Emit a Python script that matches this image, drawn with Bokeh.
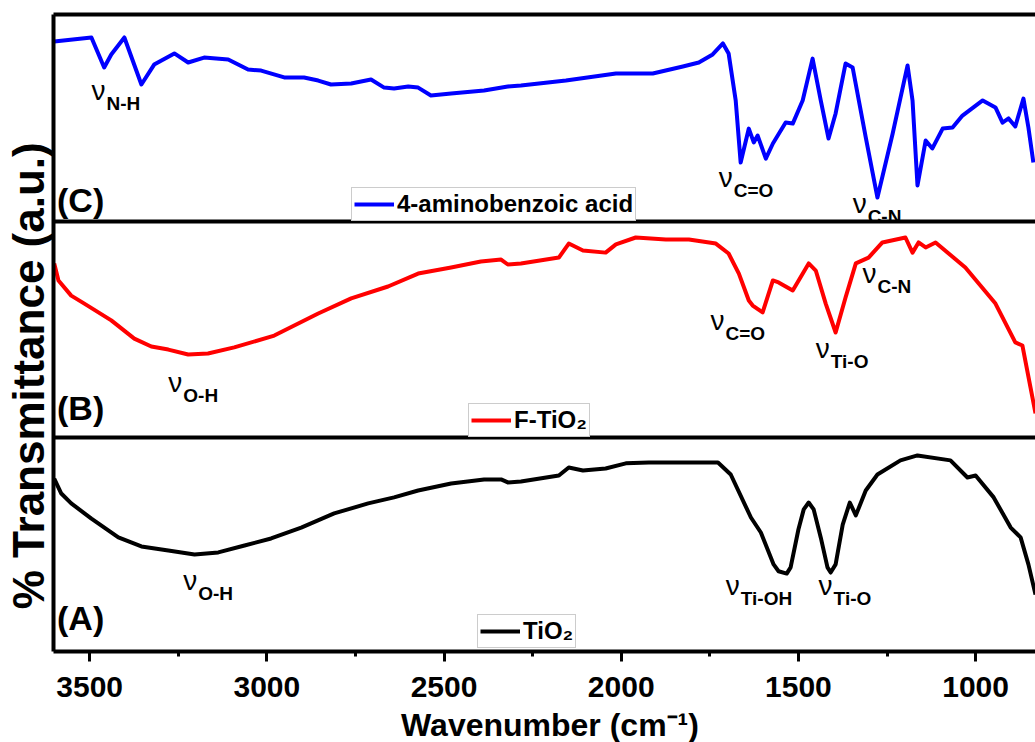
from bokeh.plotting import figure
from bokeh.layouts import column
from bokeh.models import (Range1d, LinearAxis, SingleIntervalTicker, FixedTicker,
                          Span, Legend, LegendItem)
from bokeh.core.properties import value
from bokeh.embed import file_html
from bokeh.resources import INLINE

# ---------------- data (wavenumber in cm-1, relative transmittance 0-100 per panel) -------------
wn_c = [3600, 3495, 3459, 3439, 3402, 3354, 3318, 3261, 3222, 3177, 3109, 3053, 3016, 2951, 2895,
        2855, 2819, 2762, 2706, 2669, 2641, 2601, 2573, 2537, 2480, 2387, 2320, 2283, 2156, 2015,
        1911, 1826, 1781, 1742, 1713, 1697, 1677, 1663, 1640, 1626, 1615, 1592, 1572, 1536, 1516,
        1488, 1460, 1437, 1415, 1395, 1367, 1347, 1310, 1277, 1234, 1192, 1178, 1164, 1141, 1122,
        1093, 1065, 1037, 980, 944, 924, 907, 888, 865, 851, 837]
t_c = [87.0, 88.9, 74.4, 80.7, 88.9, 66.2, 75.8, 81.2, 76.8, 79.2, 78.3, 73.4, 72.9, 69.6, 69.6,
       68.1, 66.2, 66.7, 68.6, 64.7, 64.3, 65.2, 64.7, 60.9, 61.8, 63.3, 65.2, 65.7, 68.1, 71.5,
       71.5, 74.9, 76.8, 80.7, 86.0, 81.2, 58.5, 28.5, 44.9, 38.2, 41.5, 30.4, 37.7, 47.8, 47.3,
       58.5, 78.7, 58.5, 40.1, 52.2, 76.3, 74.4, 40.6, 11.6, 42.5, 75.4, 58.5, 17.4, 39.1, 35.3,
       44.9, 45.4, 51.2, 58.5, 55.1, 47.8, 49.8, 45.9, 59.4, 45.4, 28.5]

wn_b = [3600, 3588, 3552, 3515, 3439, 3374, 3326, 3278, 3222, 3166, 3092, 2979, 2855, 2762, 2658,
        2573, 2480, 2396, 2339, 2320, 2283, 2176, 2148, 2108, 2044, 2015, 1959, 1874, 1809, 1733,
        1697, 1668, 1640, 1629, 1601, 1572, 1556, 1516, 1471, 1451, 1423, 1395, 1367, 1338, 1302,
        1263, 1198, 1178, 1161, 1141, 1113, 1029, 944, 888, 868, 845, 831]
t_b = [80.6, 72.7, 65.7, 62.0, 54.2, 45.8, 42.1, 40.7, 38.4, 38.9, 41.7, 47.2, 57.4, 64.4, 69.9,
       75.9, 78.7, 81.5, 82.4, 80.1, 80.6, 83.3, 89.8, 86.6, 85.6, 89.4, 92.6, 91.7, 91.7, 89.8,
       85.2, 75.9, 63.4, 61.1, 57.9, 72.7, 71.8, 68.1, 80.6, 77.3, 62.0, 48.6, 64.8, 80.6, 83.3,
       90.3, 92.6, 85.6, 90.3, 88.0, 90.3, 78.7, 62.0, 44.0, 42.6, 23.1, 11.1]

wn_a = [3600, 3580, 3552, 3495, 3419, 3354, 3278, 3204, 3137, 3063, 2988, 2903, 2810, 2714, 2641,
        2573, 2480, 2387, 2339, 2320, 2283, 2176, 2148, 2108, 2044, 1987, 1922, 1781, 1727, 1691,
        1634, 1606, 1570, 1556, 1533, 1522, 1500, 1485, 1471, 1457, 1437, 1418, 1409, 1395, 1375,
        1355, 1338, 1310, 1277, 1212, 1164, 1071, 1023, 1000, 949, 901, 873, 851, 831]
t_a = [80.8, 73.8, 69.2, 62.1, 53.3, 49.1, 47.2, 45.3, 46.3, 49.5, 52.8, 57.9, 64.5, 69.2, 72.0,
       75.2, 78.5, 80.4, 80.4, 79.0, 79.4, 82.2, 86.0, 84.6, 85.5, 87.9, 88.3, 88.3, 88.3, 82.7,
       62.6, 55.6, 40.7, 37.5, 36.4, 39.3, 57.0, 66.4, 69.6, 66.4, 53.3, 39.3, 36.9, 40.7, 59.3,
       69.6, 63.6, 75.2, 82.7, 89.3, 91.6, 89.3, 81.3, 82.2, 72.0, 57.9, 53.3, 40.7, 26.6]

series_names = ["4-aminobenzoic acid", "F-TiO\u2082", "TiO\u2082"]
x_ticks_step = 500
x_title = "Wavenumber (cm\u207b\u00b9)"
y_title = "% Transmittance (a.u.)"

# band annotations (wavenumber, height on the stacked axis, subscript)
ann_wn = [3495, 1725, 1347, 3278, 1748, 1451, 1319, 3236, 1705, 1443]
ann_y = [259.5, 218.5, 206.3, 122.0, 151.2, 138.0, 173.3, 28.7, 26.4, 26.4]
ann_sub = ["N-H", "C=O", "C-N", "O-H", "C=O", "Ti-O", "C-N", "O-H", "Ti-OH", "Ti-O"]

panel_labels = ["(C)", "(B)", "(A)"]
panel_label_y = [207.0, 109.0, 10.0]

# ---------------- layout of the stacked panels ----------------
FONT = "Liberation Sans"
panel_bottom = {"A": 0.0, "B": 100.8, "C": 202.5}
panel_height = {"A": 100.8, "B": 101.7, "C": 97.5}

def stack(vals, key):
    return [panel_bottom[key] + v * panel_height[key] / 100.0 for v in vals]

p = figure(width=1035, height=706, output_backend="svg", toolbar_location=None,
           x_range=Range1d(3602, 831), y_range=Range1d(0, 300),
           min_border_left=52, min_border_right=0, min_border_top=14, min_border_bottom=55,
           y_axis_label=y_title + "\u00a0" * 7)
p.outline_line_color = None
p.grid.visible = False
p.background_fill_color = "white"
p.border_fill_color = "white"

xa = p.xaxis[0]
xa.ticker = SingleIntervalTicker(interval=x_ticks_step, num_minor_ticks=2)
xa.axis_line_width = 4
xa.major_tick_line_width = 3
xa.major_tick_out = 10
xa.major_tick_in = 0
xa.minor_tick_line_width = 3
xa.minor_tick_out = 5
xa.minor_tick_in = 0
xa.major_label_text_font = FONT
xa.major_label_text_font_style = "bold"
xa.major_label_text_font_size = "30px"
xa.major_label_text_color = "black"
xa.major_label_standoff = 15

ya = p.yaxis[0]
ya.ticker = FixedTicker(ticks=[])
ya.axis_line_width = 4
ya.major_tick_line_color = None
ya.minor_tick_line_color = None
ya.major_label_text_font_size = "0px"
ya.axis_label_text_font = FONT
ya.axis_label_text_font_style = "bold"
ya.axis_label_text_font_size = "44px"
ya.axis_label_text_color = "black"
ya.axis_label_standoff = 1

top_axis = LinearAxis(ticker=FixedTicker(ticks=[]), axis_line_width=4,
                      major_tick_line_color=None, minor_tick_line_color=None,
                      major_label_text_font_size="0px")
p.add_layout(top_axis, "above")

for key in ("B", "C"):
    p.add_layout(Span(location=panel_bottom[key], dimension="width",
                      line_color="black", line_width=4))

rC = p.line(wn_c, stack(t_c, "C"), line_color="#0000ff", line_width=4, line_join="round")
rB = p.line(wn_b, stack(t_b, "B"), line_color="#ff0000", line_width=4, line_join="round")
rA = p.line(wn_a, stack(t_a, "A"), line_color="black", line_width=4, line_join="round")

# band labels (anchor = baseline of the nu)
p.text(x=ann_wn, y=ann_y, text=["\u03bd"] * len(ann_wn), y_offset=-10, text_font=value(FONT),
       text_font_size="28px", text_baseline="middle", text_align="left", text_color="black")
p.text(x=ann_wn, y=ann_y, text=ann_sub, x_offset=15, y_offset=3, text_font=value(FONT),
       text_font_style="bold", text_font_size="19px", text_baseline="middle",
       text_align="left", text_color="black")

# panel letters
p.text(x=[3592] * 3, y=panel_label_y, text=panel_labels, y_offset=-12,
       text_font=value(FONT), text_font_style="bold", text_font_size="34px",
       text_baseline="middle", text_align="left", text_color="black")

# legends
def make_legend(label, rend, loc):
    lg = Legend(items=[LegendItem(label=label, renderers=[rend])], location=loc)
    lg.label_text_font = FONT
    lg.label_text_font_style = "bold"
    lg.label_text_font_size = "24px"
    lg.label_text_color = "black"
    lg.border_line_color = "#999999"
    lg.border_line_width = 1
    lg.padding = 2
    lg.margin = 0
    lg.spacing = 0
    lg.glyph_width = 40
    lg.label_standoff = 3
    lg.background_fill_color = "white"
    lg.background_fill_alpha = 1
    return lg

p.add_layout(make_legend(series_names[0], rC, (298, 430)))
p.add_layout(make_legend(series_names[1], rB, (415, 214)))
p.add_layout(make_legend(series_names[2], rA, (424, 3)))

# x-axis title strip (shares the x scale of the main plot)
q = figure(width=1035, height=36, output_backend="svg", toolbar_location=None,
           x_range=p.x_range, y_range=Range1d(0, 1),
           min_border_left=52, min_border_right=0, min_border_top=0, min_border_bottom=0,
           x_axis_location=None, y_axis_location=None)
q.outline_line_color = None
q.grid.visible = False
q.background_fill_color = "white"
q.border_fill_color = "white"
q.text(x=[2201], y=[0.5], text=[x_title], text_font=value(FONT), text_font_style="bold",
       text_font_size="32px", text_baseline="middle", text_align="center", text_color="black")

layout = column(p, q, spacing=0)
open("out.html", "w").write(file_html(layout, INLINE))
